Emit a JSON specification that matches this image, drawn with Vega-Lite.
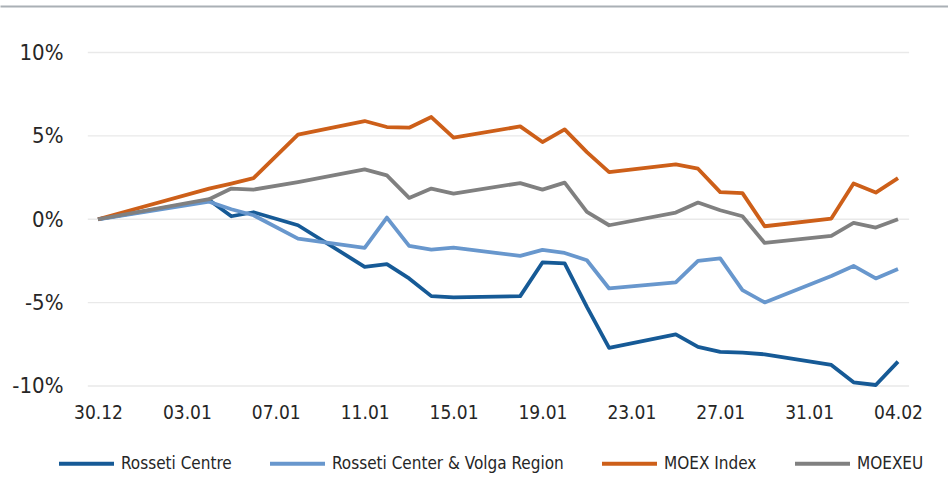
{
  "$schema": "https://vega.github.io/schema/vega-lite/v6.json",
  "width": 948,
  "height": 390,
  "autosize": {"type": "none"},
  "padding": {"left": 0, "top": 6, "right": 0, "bottom": 84},
  "background": "white",
  "config": {
    "view": {"stroke": null},
    "font": "DejaVu Sans Condensed, Liberation Sans Narrow, Roboto, sans-serif",
    "axis": {"grid": false, "ticks": false, "domain": false, "labelColor": "#262626", "labelFont": "DejaVu Sans Condensed, Liberation Sans Narrow, Roboto, sans-serif"}
  },
  "layer": [
    {
      "data": {"values": [{"g": -10}, {"g": -5}, {"g": 0}, {"g": 5}, {"g": 10}]},
      "mark": {"type": "rule", "color": "#e9e9e9", "strokeWidth": 1.3},
      "encoding": {
        "y": {"field": "g", "type": "quantitative", "title": null,
              "scale": {"domain": [-10.6, 12.789], "nice": false, "zero": false},
              "axis": {"orient": "left", "offset": -66, "labelPadding": 3, "values": [-10, -5, 0, 5, 10], "labelExpr": "datum.value + '%'", "labelFontSize": 22}},
        "x": {"datum": {"year": 2020, "month": 12, "date": 29, "hours": 13, "utc": true}, "type": "temporal", "title": null,
              "scale": {"type": "utc", "domain": [{"year": 2020, "month": 12, "date": 25, "hours": 14, "minutes": 10, "utc": true}, {"year": 2021, "month": 2, "date": 6, "hours": 6, "utc": true}]},
              "axis": {"orient": "top", "domain": true, "domainColor": "#aab0b5", "domainWidth": 2, "labels": false, "ticks": false, "grid": false}},
        "x2": {"datum": {"year": 2021, "month": 2, "date": 4, "hours": 12, "utc": true}}
      }
    },
    {
      "data": {"values": [
        {"date": "2020-12-30", "series": "Rosseti Centre", "value": 0},
        {"date": "2021-01-04", "series": "Rosseti Centre", "value": 1.15},
        {"date": "2021-01-05", "series": "Rosseti Centre", "value": 0.18},
        {"date": "2021-01-06", "series": "Rosseti Centre", "value": 0.42},
        {"date": "2021-01-08", "series": "Rosseti Centre", "value": -0.36},
        {"date": "2021-01-11", "series": "Rosseti Centre", "value": -2.85},
        {"date": "2021-01-12", "series": "Rosseti Centre", "value": -2.69},
        {"date": "2021-01-13", "series": "Rosseti Centre", "value": -3.55},
        {"date": "2021-01-14", "series": "Rosseti Centre", "value": -4.61},
        {"date": "2021-01-15", "series": "Rosseti Centre", "value": -4.69},
        {"date": "2021-01-18", "series": "Rosseti Centre", "value": -4.61},
        {"date": "2021-01-19", "series": "Rosseti Centre", "value": -2.59},
        {"date": "2021-01-20", "series": "Rosseti Centre", "value": -2.65},
        {"date": "2021-01-21", "series": "Rosseti Centre", "value": -5.25},
        {"date": "2021-01-22", "series": "Rosseti Centre", "value": -7.71},
        {"date": "2021-01-25", "series": "Rosseti Centre", "value": -6.9},
        {"date": "2021-01-26", "series": "Rosseti Centre", "value": -7.65},
        {"date": "2021-01-27", "series": "Rosseti Centre", "value": -7.95},
        {"date": "2021-01-28", "series": "Rosseti Centre", "value": -8.0},
        {"date": "2021-01-29", "series": "Rosseti Centre", "value": -8.1},
        {"date": "2021-02-01", "series": "Rosseti Centre", "value": -8.74},
        {"date": "2021-02-02", "series": "Rosseti Centre", "value": -9.78},
        {"date": "2021-02-03", "series": "Rosseti Centre", "value": -9.94},
        {"date": "2021-02-04", "series": "Rosseti Centre", "value": -8.54},
        {"date": "2020-12-30", "series": "Rosseti Center & Volga Region", "value": 0},
        {"date": "2021-01-04", "series": "Rosseti Center & Volga Region", "value": 1.05},
        {"date": "2021-01-05", "series": "Rosseti Center & Volga Region", "value": 0.6},
        {"date": "2021-01-06", "series": "Rosseti Center & Volga Region", "value": 0.24},
        {"date": "2021-01-08", "series": "Rosseti Center & Volga Region", "value": -1.16},
        {"date": "2021-01-11", "series": "Rosseti Center & Volga Region", "value": -1.72},
        {"date": "2021-01-12", "series": "Rosseti Center & Volga Region", "value": 0.1},
        {"date": "2021-01-13", "series": "Rosseti Center & Volga Region", "value": -1.6},
        {"date": "2021-01-14", "series": "Rosseti Center & Volga Region", "value": -1.82},
        {"date": "2021-01-15", "series": "Rosseti Center & Volga Region", "value": -1.7},
        {"date": "2021-01-18", "series": "Rosseti Center & Volga Region", "value": -2.2},
        {"date": "2021-01-19", "series": "Rosseti Center & Volga Region", "value": -1.84},
        {"date": "2021-01-20", "series": "Rosseti Center & Volga Region", "value": -2.02},
        {"date": "2021-01-21", "series": "Rosseti Center & Volga Region", "value": -2.46},
        {"date": "2021-01-22", "series": "Rosseti Center & Volga Region", "value": -4.15},
        {"date": "2021-01-25", "series": "Rosseti Center & Volga Region", "value": -3.79},
        {"date": "2021-01-26", "series": "Rosseti Center & Volga Region", "value": -2.5},
        {"date": "2021-01-27", "series": "Rosseti Center & Volga Region", "value": -2.35},
        {"date": "2021-01-28", "series": "Rosseti Center & Volga Region", "value": -4.25},
        {"date": "2021-01-29", "series": "Rosseti Center & Volga Region", "value": -4.99},
        {"date": "2021-02-01", "series": "Rosseti Center & Volga Region", "value": -3.4},
        {"date": "2021-02-02", "series": "Rosseti Center & Volga Region", "value": -2.8},
        {"date": "2021-02-03", "series": "Rosseti Center & Volga Region", "value": -3.55},
        {"date": "2021-02-04", "series": "Rosseti Center & Volga Region", "value": -2.99},
        {"date": "2020-12-30", "series": "MOEX Index", "value": 0},
        {"date": "2021-01-04", "series": "MOEX Index", "value": 1.84},
        {"date": "2021-01-05", "series": "MOEX Index", "value": 2.14},
        {"date": "2021-01-06", "series": "MOEX Index", "value": 2.47},
        {"date": "2021-01-08", "series": "MOEX Index", "value": 5.07},
        {"date": "2021-01-11", "series": "MOEX Index", "value": 5.89},
        {"date": "2021-01-12", "series": "MOEX Index", "value": 5.53},
        {"date": "2021-01-13", "series": "MOEX Index", "value": 5.49},
        {"date": "2021-01-14", "series": "MOEX Index", "value": 6.13},
        {"date": "2021-01-15", "series": "MOEX Index", "value": 4.89},
        {"date": "2021-01-18", "series": "MOEX Index", "value": 5.57},
        {"date": "2021-01-19", "series": "MOEX Index", "value": 4.63},
        {"date": "2021-01-20", "series": "MOEX Index", "value": 5.39},
        {"date": "2021-01-21", "series": "MOEX Index", "value": 4.03},
        {"date": "2021-01-22", "series": "MOEX Index", "value": 2.83},
        {"date": "2021-01-25", "series": "MOEX Index", "value": 3.29},
        {"date": "2021-01-26", "series": "MOEX Index", "value": 3.03},
        {"date": "2021-01-27", "series": "MOEX Index", "value": 1.63},
        {"date": "2021-01-28", "series": "MOEX Index", "value": 1.57},
        {"date": "2021-01-29", "series": "MOEX Index", "value": -0.42},
        {"date": "2021-02-01", "series": "MOEX Index", "value": 0.04},
        {"date": "2021-02-02", "series": "MOEX Index", "value": 2.14},
        {"date": "2021-02-03", "series": "MOEX Index", "value": 1.6},
        {"date": "2021-02-04", "series": "MOEX Index", "value": 2.47},
        {"date": "2020-12-30", "series": "MOEXEU", "value": 0},
        {"date": "2021-01-04", "series": "MOEXEU", "value": 1.2},
        {"date": "2021-01-05", "series": "MOEXEU", "value": 1.84},
        {"date": "2021-01-06", "series": "MOEXEU", "value": 1.78},
        {"date": "2021-01-08", "series": "MOEXEU", "value": 2.23},
        {"date": "2021-01-11", "series": "MOEXEU", "value": 2.99},
        {"date": "2021-01-12", "series": "MOEXEU", "value": 2.63},
        {"date": "2021-01-13", "series": "MOEXEU", "value": 1.28},
        {"date": "2021-01-14", "series": "MOEXEU", "value": 1.84},
        {"date": "2021-01-15", "series": "MOEXEU", "value": 1.54},
        {"date": "2021-01-18", "series": "MOEXEU", "value": 2.17},
        {"date": "2021-01-19", "series": "MOEXEU", "value": 1.78},
        {"date": "2021-01-20", "series": "MOEXEU", "value": 2.2},
        {"date": "2021-01-21", "series": "MOEXEU", "value": 0.44},
        {"date": "2021-01-22", "series": "MOEXEU", "value": -0.36},
        {"date": "2021-01-25", "series": "MOEXEU", "value": 0.4},
        {"date": "2021-01-26", "series": "MOEXEU", "value": 1.0},
        {"date": "2021-01-27", "series": "MOEXEU", "value": 0.54},
        {"date": "2021-01-28", "series": "MOEXEU", "value": 0.18},
        {"date": "2021-01-29", "series": "MOEXEU", "value": -1.42},
        {"date": "2021-02-01", "series": "MOEXEU", "value": -1.0},
        {"date": "2021-02-02", "series": "MOEXEU", "value": -0.22},
        {"date": "2021-02-03", "series": "MOEXEU", "value": -0.5},
        {"date": "2021-02-04", "series": "MOEXEU", "value": 0.0}
      ]},
      "mark": {"type": "line", "strokeWidth": 3.8, "strokeJoin": "round"},
      "encoding": {
        "x": {"field": "date", "type": "temporal", "title": null,
              "scale": {"type": "utc", "domain": [{"year": 2020, "month": 12, "date": 25, "hours": 14, "minutes": 10, "utc": true}, {"year": 2021, "month": 2, "date": 6, "hours": 6, "utc": true}]},
              "axis": {"orient": "bottom", "format": "%d.%m", "labelFontSize": 19, "labelPadding": 7, "labelFlush": false,
                       "values": [
                         {"year": 2020, "month": 12, "date": 30, "utc": true},
                         {"year": 2021, "month": 1, "date": 3, "utc": true},
                         {"year": 2021, "month": 1, "date": 7, "utc": true},
                         {"year": 2021, "month": 1, "date": 11, "utc": true},
                         {"year": 2021, "month": 1, "date": 15, "utc": true},
                         {"year": 2021, "month": 1, "date": 19, "utc": true},
                         {"year": 2021, "month": 1, "date": 23, "utc": true},
                         {"year": 2021, "month": 1, "date": 27, "utc": true},
                         {"year": 2021, "month": 1, "date": 31, "utc": true},
                         {"year": 2021, "month": 2, "date": 4, "utc": true}
                       ]}},
        "y": {"field": "value", "type": "quantitative", "title": null},
        "color": {"field": "series", "type": "nominal", "sort": null,
                  "scale": {"domain": ["Rosseti Centre", "Rosseti Center & Volga Region", "MOEX Index", "MOEXEU"],
                            "range": ["#165a96", "#6897cd", "#cd5f19", "#808080"]},
                  "legend": {"title": null, "orient": "none", "direction": "horizontal", "legendX": 57, "legendY": 428,
                             "symbolType": "stroke", "symbolSize": 3025, "symbolStrokeWidth": 4,
                             "labelFontSize": 17, "labelOffset": 5, "columnPadding": 30, "labelColor": "#262626",
                             "labelFont": "DejaVu Sans Condensed, Liberation Sans Narrow, Roboto, sans-serif", "labelLimit": 400}}
      }
    }
  ],
  "resolve": {"axis": {"x": "independent"}}
}
